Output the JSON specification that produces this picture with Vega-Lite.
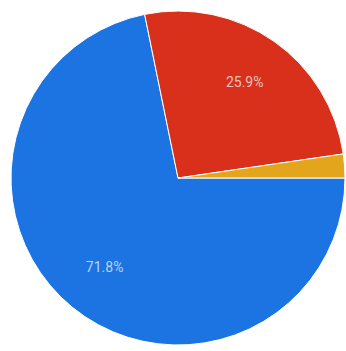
{
  "$schema": "https://vega.github.io/schema/vega-lite/v6.json",
  "width": 334,
  "height": 334,
  "padding": {"left": 9, "top": 9, "right": 0, "bottom": 0},
  "background": "white",
  "view": {"stroke": null},
  "data": {"values": [
    {"category": "A", "order": 1, "value": 71.8, "label": "71.8%"},
    {"category": "B", "order": 2, "value": 25.9, "label": "25.9%"},
    {"category": "C", "order": 3, "value": 2.3, "label": ""}
  ]},
  "encoding": {
    "theta": {"field": "value", "type": "quantitative", "stack": true, "scale": {"range": [1.5708, 7.854]}},
    "order": {"field": "order", "type": "quantitative"}
  },
  "layer": [
    {
      "mark": {"type": "arc", "outerRadius": 167, "stroke": "white", "strokeWidth": 1},
      "encoding": {
        "color": {"field": "category", "type": "nominal", "legend": null,
          "scale": {"domain": ["A", "B", "C"], "range": ["#1c74e3", "#d8301a", "#e3a51c"]}}
      }
    },
    {
      "mark": {"type": "text", "radius": 116, "fontSize": 14, "font": "Roboto", "fill": "#f2f2f2", "fillOpacity": 0.75},
      "encoding": {"text": {"field": "label", "type": "nominal"}}
    }
  ]
}
